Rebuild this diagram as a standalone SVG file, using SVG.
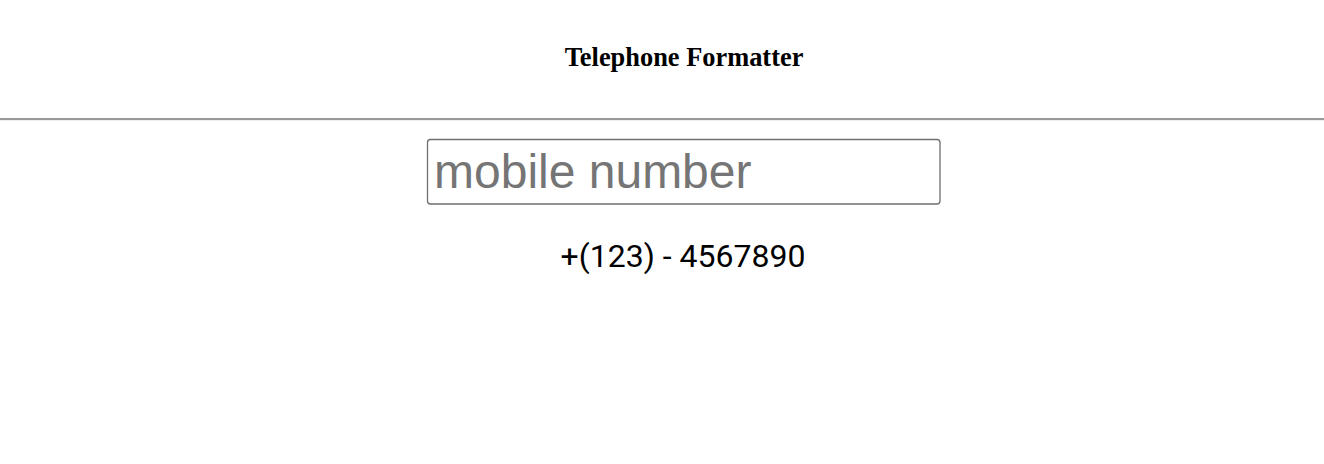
<svg xmlns="http://www.w3.org/2000/svg" width="1324" height="464" viewBox="0 0 1324 464">
<style>
.title{font-family:"Liberation Serif","Times New Roman",serif;font-weight:bold;font-size:26.4px;fill:#000}
.ph{font-family:"Liberation Sans",Arial,sans-serif;font-size:48px;fill:#757575}
.out{font-family:Roboto,"Liberation Sans",sans-serif;font-size:32px;fill:#000}
</style>
<rect width="1324" height="464" fill="#fff"/>
<g id="header">
<text class="title" x="684" y="66" text-anchor="middle">Telephone Formatter</text>
<rect x="0" y="118" width="1324" height="2" fill="#999"/>
<rect x="0" y="120" width="1324" height="1" fill="#eee"/>
</g>
<g id="input">
<rect x="427.5" y="139.5" width="512.5" height="64.5" rx="3" fill="#fff" stroke="#6f6f6f" stroke-width="1.3"/>
<text class="ph" x="434" y="188">mobile number</text>
</g>
<g id="output">
<text class="out" x="683" y="267" text-anchor="middle">+(123) - 4567890</text>
</g>
<g id="connectors"/>
</svg>
